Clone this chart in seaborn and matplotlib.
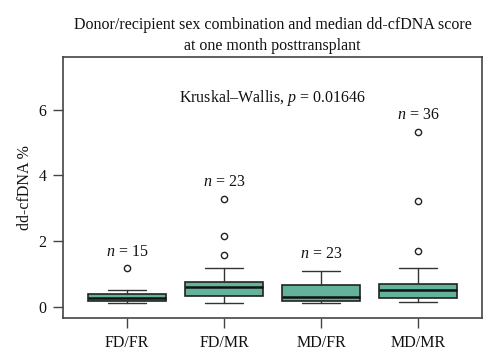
import numpy as np
import matplotlib.pyplot as plt
import seaborn as sns

# groups and summary stats (dd-cfDNA %)
groups = ["FD/FR", "FD/MR", "MD/FR", "MD/MR"]
n_obs = [15, 23, 23, 36]
whislo = [0.13, 0.13, 0.13, 0.17]
q1 = [0.19, 0.34, 0.19, 0.27]
med = [0.28, 0.60, 0.30, 0.51]
q3 = [0.39, 0.75, 0.67, 0.71]
whishi = [0.52, 1.20, 1.10, 1.18]
outliers = [[1.18], [1.59, 2.17, 3.29], [], [1.70, 3.21, 5.33]]
n_label_y = [1.69, 3.79, 1.62, 5.83]

sns.set_style("ticks")
plt.rcParams['font.family'] = ['Liberation Serif', 'DejaVu Serif']
plt.rcParams['mathtext.fontset'] = 'custom'
plt.rcParams['mathtext.rm'] = 'Liberation Serif'
plt.rcParams['mathtext.it'] = 'Liberation Serif:italic'

fig = plt.figure(figsize=(5, 3.63), dpi=100)
ax = fig.add_axes([0.126, 0.124, 0.838, 0.719])

stats = []
for i, g in enumerate(groups):
    stats.append({"label": g, "whislo": whislo[i], "q1": q1[i], "med": med[i],
                  "q3": q3[i], "whishi": whishi[i], "fliers": outliers[i]})

pos = np.arange(len(groups))
ax.bxp(stats, positions=pos, widths=0.8, patch_artist=True,
       boxprops=dict(facecolor="#62b29c", edgecolor="#222222", linewidth=1.2),
       medianprops=dict(color="#111111", linewidth=1.8),
       whiskerprops=dict(color="#333333", linewidth=1.0),
       capprops=dict(color="#333333", linewidth=1.0),
       capwidths=0.4,
       flierprops=dict(marker="o", markersize=4.5, markerfacecolor="white",
                       markeredgecolor="#222222", markeredgewidth=1.0))

txt = "#111111"
for i in range(len(groups)):
    ax.text(pos[i], n_label_y[i], f"$n$ = {n_obs[i]}", ha="center", va="center",
            fontsize=11.5, color=txt)

ax.text(1.5, 6.36, "Kruskal\u2013Wallis, $p$ = 0.01646", ha="center", va="center",
        fontsize=11.5, color=txt)

ax.set_xlim(-0.66, 3.66)
ax.set_ylim(-0.33, 7.6)
ax.set_yticks([0, 2, 4, 6])
ax.set_xticks(pos)
ax.set_xticklabels(groups)
ax.tick_params(axis="both", direction="out", length=7, width=1.0, color="#444444",
               labelsize=11.5, labelcolor=txt, pad=5)
for s in ax.spines.values():
    s.set_visible(True)
    s.set_color("#444444")
    s.set_linewidth(1.2)

ax.set_ylabel("dd-cfDNA %", fontsize=11.5, color=txt, labelpad=4)
ax.set_title("Donor/recipient sex combination and median dd-cfDNA score\nat one month posttransplant",
             fontsize=11.5, color=txt, pad=5, linespacing=1.45)

fig.savefig("out.png", dpi=100)
